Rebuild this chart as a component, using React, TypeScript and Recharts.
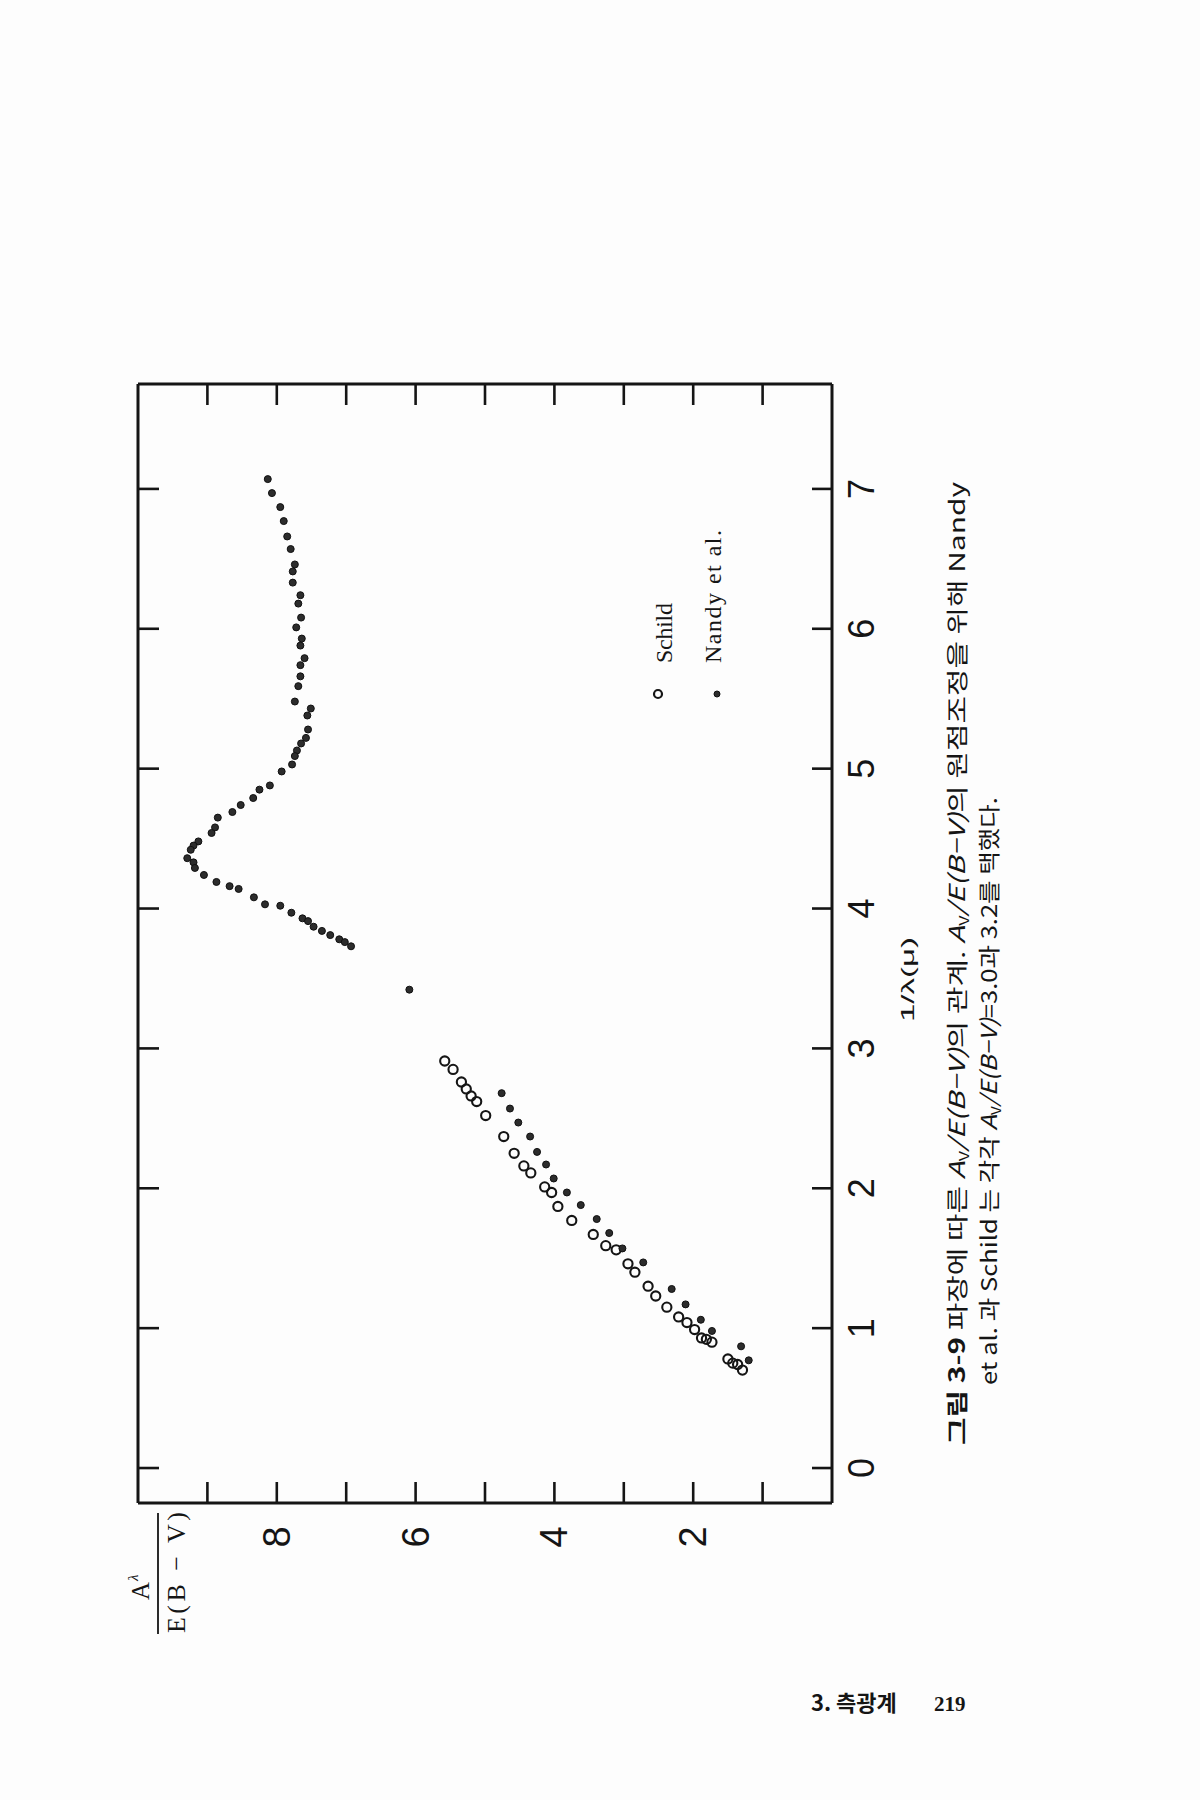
import React from 'react';
import { ScatterChart, Scatter, XAxis, YAxis } from 'recharts';

// 1/λ (μ⁻¹) and Aλ/E(B−V)
const nandyInvLambda = [
  7.07, 6.97, 6.87, 6.77, 6.66, 6.57, 6.46, 6.41, 6.33, 6.24, 6.18, 6.08, 6.01, 5.93, 5.88,
  5.79, 5.74, 5.66, 5.59, 5.48, 5.43, 5.38, 5.28, 5.22, 5.18, 5.13, 5.09, 5.03, 4.98, 4.88,
  4.85, 4.79, 4.74, 4.69, 4.65, 4.58, 4.54, 4.48, 4.45, 4.42, 4.36, 4.33, 4.29, 4.24, 4.19,
  4.16, 4.14, 4.08, 4.03, 4.02, 3.97, 3.93, 3.91, 3.87, 3.84, 3.81, 3.78, 3.76, 3.73,
  3.42,
  2.68, 2.57, 2.47, 2.37, 2.26, 2.17, 2.07, 1.97, 1.88, 1.78, 1.68, 1.57, 1.47, 1.28, 1.17,
  1.06, 0.98, 0.87, 0.77,
];
const nandyValue = [
  8.13, 8.07, 7.95, 7.9, 7.85, 7.8, 7.74, 7.77, 7.77, 7.66, 7.69, 7.65, 7.72, 7.64, 7.66,
  7.6, 7.66, 7.66, 7.69, 7.74, 7.51, 7.56, 7.55, 7.58, 7.65, 7.71, 7.74, 7.78, 7.93, 8.1,
  8.25, 8.34, 8.52, 8.64, 8.85, 8.89, 8.94, 9.13, 9.2, 9.24, 9.29, 9.2, 9.18, 9.05, 8.87,
  8.68, 8.55, 8.33, 8.17, 7.95, 7.79, 7.63, 7.55, 7.47, 7.35, 7.23, 7.1, 7.02, 6.93,
  6.09,
  4.76, 4.64, 4.52, 4.35, 4.25, 4.12, 4.01, 3.82, 3.62, 3.39, 3.21, 3.02, 2.72, 2.31, 2.11,
  1.89, 1.73, 1.31, 1.2,
];
const schildInvLambda = [
  2.91, 2.85, 2.76, 2.71, 2.66, 2.62, 2.52, 2.37, 2.25, 2.16, 2.11, 2.01, 1.97, 1.87, 1.77,
  1.67, 1.59, 1.56, 1.46, 1.4, 1.3, 1.23, 1.15, 1.08, 1.04, 0.99, 0.93, 0.92, 0.9, 0.78,
  0.75, 0.74, 0.7,
];
const schildValue = [
  5.58, 5.46, 5.34, 5.27, 5.2, 5.12, 4.99, 4.73, 4.58, 4.44, 4.34, 4.14, 4.04, 3.95, 3.75,
  3.44, 3.26, 3.11, 2.94, 2.84, 2.65, 2.54, 2.38, 2.21, 2.09, 1.98, 1.88, 1.81, 1.73, 1.5,
  1.43, 1.36, 1.29,
];
const xTicks = [0, 1, 2, 3, 4, 5, 6, 7];
const yTicks = [1, 2, 3, 4, 5, 6, 7, 8, 9];
const yLabelTicks = [2, 4, 6, 8];
const xDomain: [number, number] = [-0.25, 7.75];
const yDomain: [number, number] = [0, 10];

const nandyData = nandyInvLambda.map((x, i) => ({ x, y: nandyValue[i] }));
const schildData = schildInvLambda.map((x, i) => ({ x, y: schildValue[i] }));

const INK = '#151515';
const SANS = "'Liberation Sans', Arial, sans-serif";
const SERIF = "'Liberation Serif', 'Times New Roman', serif";
const KR = "'Noto Sans CJK KR', 'Noto Sans', sans-serif";

const BottomTick = (p: any) => (
  <g>
    <line x1={p.x} y1={p.y} x2={p.x} y2={p.y - 20} stroke={INK} strokeWidth={2.6} />
    <text x={p.x} y={p.y + 42} textAnchor="middle" fontFamily={SANS} fontSize={36} fill={INK}>
      {p.payload.value}
    </text>
  </g>
);
const TopTick = (p: any) => (
  <line x1={p.x} y1={p.y} x2={p.x} y2={p.y + 21} stroke={INK} strokeWidth={2.6} />
);
const LeftTick = (p: any) => (
  <g>
    <line x1={p.x} y1={p.y} x2={p.x + 21} y2={p.y} stroke={INK} strokeWidth={2.6} />
    {yLabelTicks.includes(p.payload.value) ? (
      <text x={p.x - 34} y={p.y + 13} textAnchor="middle" fontFamily={SANS} fontSize={38} fill={INK}>
        {p.payload.value}
      </text>
    ) : null}
  </g>
);
const RightTick = (p: any) => (
  <line x1={p.x} y1={p.y} x2={p.x - 21} y2={p.y} stroke={INK} strokeWidth={2.6} />
);

const NandyDot = (p: any) => (
  <circle cx={p.cx} cy={p.cy} r={3.5} fill="#2c2c2c" stroke="#101010" strokeWidth={1} />
);
const SchildRing = (p: any) => (
  <circle cx={p.cx} cy={p.cy} r={4.6} fill="none" stroke={INK} strokeWidth={2.1} />
);

const axisLine = { stroke: INK, strokeWidth: 3 };

const AvE = () => (
  <>
    <tspan fontStyle="italic">A</tspan>
    <tspan fontSize={13} dy={4}>V</tspan>
    <tspan fontStyle="italic" dy={-4}>/E(B−V)</tspan>
  </>
);

export default function App() {
  return (
    <div style={{ position: 'absolute', left: 0, top: 0, width: 1200, height: 1800, background: '#fdfdfd', overflow: 'hidden' }}>
      <div
        style={{
          position: 'absolute',
          left: 0,
          top: 0,
          width: 1800,
          height: 1200,
          transformOrigin: '0 0',
          transform: 'translate(0px, 1800px) rotate(-90deg)',
        }}
      >
        <ScatterChart width={1800} height={1200} margin={{ top: 128, right: 374, bottom: 328, left: 257 }}>
          <XAxis
            type="number"
            dataKey="x"
            domain={xDomain}
            ticks={xTicks}
            allowDataOverflow
            height={40}
            tickSize={0}
            tickMargin={0}
            tickLine={false}
            axisLine={axisLine}
            tick={BottomTick}
            interval={0}
          />
          <XAxis
            xAxisId="t"
            orientation="top"
            type="number"
            dataKey="x"
            domain={xDomain}
            ticks={xTicks}
            allowDataOverflow
            height={10}
            tickSize={0}
            tickMargin={0}
            tickLine={false}
            axisLine={axisLine}
            tick={TopTick}
            interval={0}
          />
          <YAxis
            type="number"
            dataKey="y"
            domain={yDomain}
            ticks={yTicks}
            allowDataOverflow
            width={40}
            tickSize={0}
            tickMargin={0}
            tickLine={false}
            axisLine={axisLine}
            tick={LeftTick}
            interval={0}
          />
          <YAxis
            yAxisId="r"
            orientation="right"
            type="number"
            dataKey="y"
            domain={yDomain}
            ticks={yTicks}
            allowDataOverflow
            width={10}
            tickSize={0}
            tickMargin={0}
            tickLine={false}
            axisLine={axisLine}
            tick={RightTick}
            interval={0}
          />
          <Scatter name="Schild" data={schildData} shape={SchildRing} isAnimationActive={false} />
          <Scatter name="Nandy et al." data={nandyData} shape={NandyDot} isAnimationActive={false} />
        </ScatterChart>

        <svg width={1800} height={1200} style={{ position: 'absolute', left: 0, top: 0, pointerEvents: 'none' }}>
          {/* y-axis title */}
          <text x={200} y={149} fontFamily={SERIF} fontSize={25} fill={INK}>A</text>
          <text x={219} y={138} fontFamily={SERIF} fontSize={15} fontStyle="italic" fill={INK}>λ</text>
          <line x1={166} y1={158} x2={287} y2={158} stroke={INK} strokeWidth={1.8} />
          <text x={167} y={185} fontFamily={SERIF} fontSize={26} fill={INK} textLength={121} lengthAdjust="spacing">
            E(B − V)
          </text>

          {/* legend */}
          <circle cx={1106} cy={658} r={4} fill="none" stroke={INK} strokeWidth={2.2} />
          <text x={1137} y={672} fontFamily={SERIF} fontSize={24} fill={INK} textLength={60} lengthAdjust="spacing">
            Schild
          </text>
          <circle cx={1106} cy={717} r={3} fill="#2c2c2c" stroke="#101010" strokeWidth={1} />
          <text x={1137} y={721} fontFamily={SERIF} fontSize={24} fill={INK} textLength={133} lengthAdjust="spacing">
            Nandy et al.
          </text>

          {/* x-axis title */}
          <text x={778} y={914} fontFamily={SANS} fontSize={18} fill={INK} textLength={85} lengthAdjust="spacingAndGlyphs">
            1/λ(μ)
          </text>

          {/* caption */}
          <text x={355} y={965} fontFamily={KR} fontSize={22} fill={INK} textLength={963} lengthAdjust="spacingAndGlyphs">
            <tspan fontWeight="bold">그림 3-9</tspan>
            <tspan>{'  파장에 따른 '}</tspan>
            <AvE />
            <tspan>{'의 관계.  '}</tspan>
            <AvE />
            <tspan>{'의 원점조정을 위해 Nandy'}</tspan>
          </text>
          <text x={415} y={997} fontFamily={KR} fontSize={22} fill={INK} textLength={588} lengthAdjust="spacingAndGlyphs">
            <tspan>{'et al. 과 Schild 는 각각 '}</tspan>
            <AvE />
            <tspan>{'=3.0과 3.2를 택했다.'}</tspan>
          </text>
        </svg>
      </div>

      <svg width={1200} height={1800} style={{ position: 'absolute', left: 0, top: 0, pointerEvents: 'none' }}>
        <text x={811} y={1711} fontFamily={KR} fontSize={22} fontWeight="bold" fill={INK}>3. 측광계</text>
        <text x={934} y={1711} fontFamily={SERIF} fontSize={21} fontWeight="bold" fill={INK}>219</text>
      </svg>
    </div>
  );
}
